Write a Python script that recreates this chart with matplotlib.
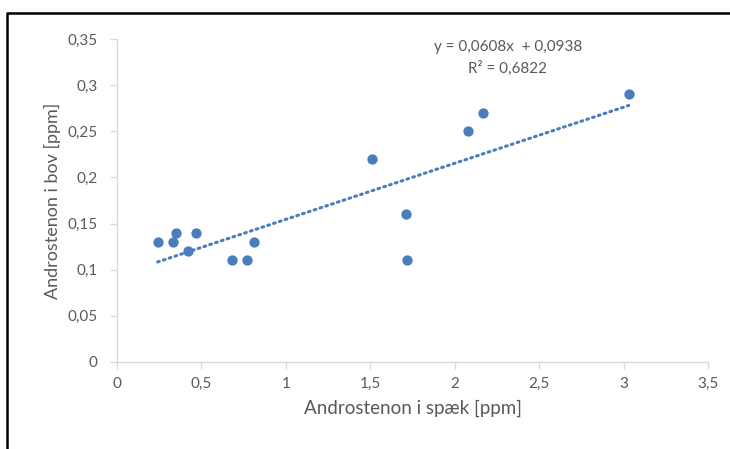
"""Androstenon: spæk vs. bov, scatter med lineær trendlinje (Excel-stil)."""
import numpy as np
import matplotlib
matplotlib.use("Agg")
import matplotlib.pyplot as plt
from matplotlib.lines import Line2D

spaek = [0.24, 0.33, 0.35, 0.42, 0.47, 0.68, 0.77, 0.81, 1.51, 1.71, 1.72, 2.08, 2.17, 3.03]
bov = [0.13, 0.13, 0.14, 0.12, 0.14, 0.11, 0.11, 0.13, 0.22, 0.16, 0.11, 0.25, 0.27, 0.29]
SLOPE = 0.0608
INTERCEPT = 0.0938
R2 = 0.6822

x_ticks = [0, 0.5, 1, 1.5, 2, 2.5, 3, 3.5]
y_ticks = [0, 0.05, 0.1, 0.15, 0.2, 0.25, 0.3, 0.35]

BLUE = "#4a7ebb"
GREY = "#595959"
AXIS = "#d9d9d9"

plt.rcParams["font.family"] = ["Lato", "DejaVu Sans"]


def comma(v):
    s = f"{v:g}"
    return s.replace(".", ",")


fig = plt.figure(figsize=(7.3, 4.49), dpi=100)
ax = fig.add_axes([0.1603, 0.1938, 0.8097, 0.7192])

ax.scatter(spaek, bov, s=55, color=BLUE, zorder=3, linewidths=0)
xs = np.array([min(spaek), max(spaek)])
ax.plot(xs, SLOPE * xs + INTERCEPT, color=BLUE, lw=2.2, ls=(0, (0.6, 1.4)),
        dash_capstyle="round", zorder=2)

ax.set_xlim(0, 3.5)
ax.set_ylim(0, 0.35)
ax.set_xticks(x_ticks)
ax.set_xticklabels([comma(v) for v in x_ticks])
ax.set_yticks(y_ticks)
ax.set_yticklabels([comma(v) for v in y_ticks])

for side in ("top", "right"):
    ax.spines[side].set_visible(False)
for side in ("left", "bottom"):
    ax.spines[side].set_color(AXIS)
    ax.spines[side].set_linewidth(1.0)
ax.tick_params(colors=AXIS, labelcolor=GREY, labelsize=11, length=5, width=1)
ax.tick_params(axis="x", pad=6)
ax.tick_params(axis="y", pad=9)

ax.set_xlabel("Androstenon i spæk [ppm]", color=GREY, fontsize=13.5, labelpad=6)
ax.set_ylabel("Androstenon i bov [ppm]", color=GREY, fontsize=13, labelpad=5)

eq = f"y = {comma(SLOPE)}x  + {comma(INTERCEPT)}\nR² = {comma(R2)}"
fig.text(508 / 730, 1 - 58 / 449, eq, color=GREY, fontsize=11,
         ha="center", va="center", linespacing=1.55)

# ramme (venstre + top)
fig.add_artist(Line2D([7 / 730, 7 / 730, 1.0], [0.0, 1 - 13 / 449, 1 - 13 / 449],
                      transform=fig.transFigure, color="black", lw=1.8))

fig.savefig("out.png", dpi=100)
